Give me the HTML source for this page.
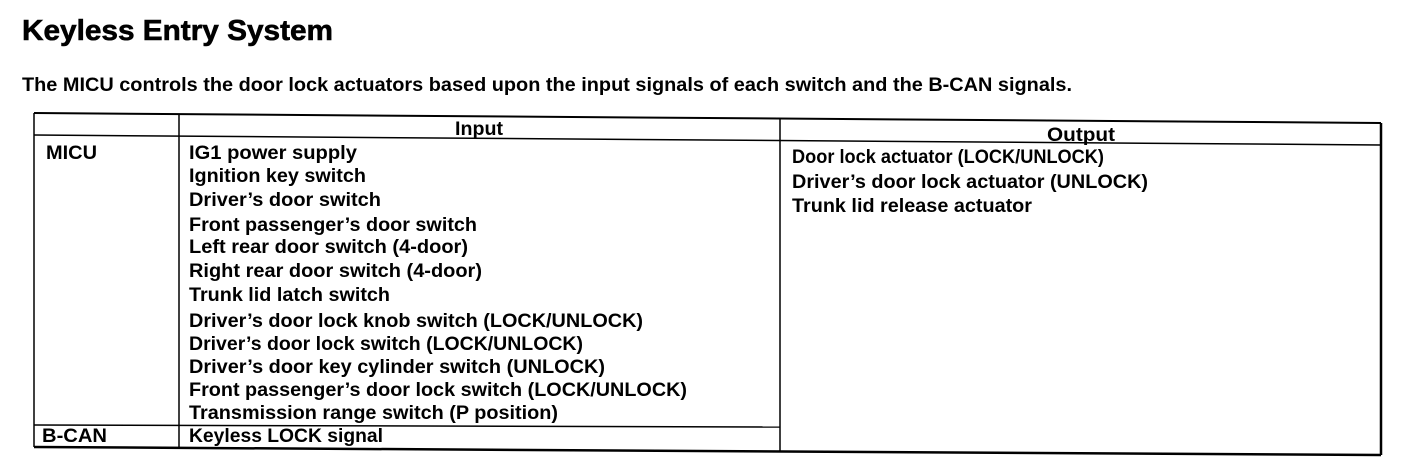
<!DOCTYPE html>
<html><head><meta charset="utf-8"><style>
html,body{margin:0;padding:0;background:#fff;width:1408px;height:466px;overflow:hidden}
svg{display:block}
text{font-family:"Liberation Sans",Arial,sans-serif;fill:#000}
.t{font-size:19px;font-weight:bold}
</style></head><body>
<svg width="1408" height="466" viewBox="0 0 1408 466">
<text x="22" y="40" font-size="29" font-weight="bold" stroke="#000" stroke-width="0.6" textLength="311" lengthAdjust="spacingAndGlyphs">Keyless Entry System</text>
<text class="t" x="22" y="91" textLength="1050" lengthAdjust="spacingAndGlyphs">The MICU controls the door lock actuators based upon the input signals of each switch and the B-CAN signals.</text>
<g stroke="#000" fill="none">
<line x1="34" y1="113" x2="1381" y2="123" stroke-width="2"/>
<line x1="34" y1="135" x2="1381" y2="145" stroke-width="1.5"/>
<line x1="34" y1="425" x2="780" y2="427" stroke-width="1.5"/>
<line x1="34" y1="447" x2="1381" y2="455" stroke-width="2.5"/>
<line x1="34" y1="113" x2="34" y2="447" stroke-width="1.5"/>
<line x1="179" y1="114" x2="179" y2="448" stroke-width="1.5"/>
<line x1="780" y1="118" x2="780" y2="451" stroke-width="1.5"/>
<line x1="1381" y1="123" x2="1381" y2="455" stroke-width="2.5"/>
</g>
<g class="t">
<text x="455" y="135" textLength="48" lengthAdjust="spacingAndGlyphs">Input</text>
<text x="1047" y="141" textLength="68" lengthAdjust="spacingAndGlyphs">Output</text>
<text x="46" y="159" textLength="51" lengthAdjust="spacingAndGlyphs">MICU</text>
<text x="42" y="442" textLength="65" lengthAdjust="spacingAndGlyphs">B-CAN</text>
<text x="189" y="159" textLength="168" lengthAdjust="spacingAndGlyphs">IG1 power supply</text>
<text x="189" y="182" textLength="177" lengthAdjust="spacingAndGlyphs">Ignition key switch</text>
<text x="189" y="206" textLength="192" lengthAdjust="spacingAndGlyphs">Driver’s door switch</text>
<text x="189" y="231" textLength="288" lengthAdjust="spacingAndGlyphs">Front passenger’s door switch</text>
<text x="189" y="253" textLength="279" lengthAdjust="spacingAndGlyphs">Left rear door switch (4-door)</text>
<text x="189" y="277" textLength="293" lengthAdjust="spacingAndGlyphs">Right rear door switch (4-door)</text>
<text x="189" y="301" textLength="201" lengthAdjust="spacingAndGlyphs">Trunk lid latch switch</text>
<text x="189" y="327" textLength="454" lengthAdjust="spacingAndGlyphs">Driver’s door lock knob switch (LOCK/UNLOCK)</text>
<text x="189" y="350" textLength="394" lengthAdjust="spacingAndGlyphs">Driver’s door lock switch (LOCK/UNLOCK)</text>
<text x="189" y="373" textLength="416" lengthAdjust="spacingAndGlyphs">Driver’s door key cylinder switch (UNLOCK)</text>
<text x="189" y="396" textLength="498" lengthAdjust="spacingAndGlyphs">Front passenger’s door lock switch (LOCK/UNLOCK)</text>
<text x="189" y="419" textLength="369" lengthAdjust="spacingAndGlyphs">Transmission range switch (P position)</text>
<text x="189" y="442" textLength="194" lengthAdjust="spacingAndGlyphs">Keyless LOCK signal</text>
<text x="792" y="163" textLength="312" lengthAdjust="spacingAndGlyphs">Door lock actuator (LOCK/UNLOCK)</text>
<text x="792" y="188" textLength="356" lengthAdjust="spacingAndGlyphs">Driver’s door lock actuator (UNLOCK)</text>
<text x="792" y="212" textLength="240" lengthAdjust="spacingAndGlyphs">Trunk lid release actuator</text>
</g>
</svg>
</body></html>
